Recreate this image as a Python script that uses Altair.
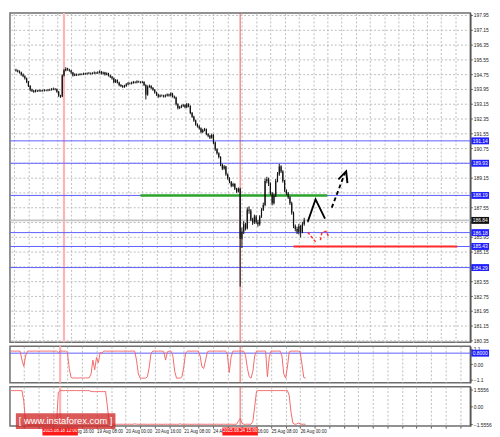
import altair as alt
import pandas as pd

# ---------------- data ----------------
first_open = 194.98
close = [
    194.94, 194.89, 194.83, 194.73, 194.63, 194.52, 194.32, 194.11, 193.90, 193.85,
    193.80, 193.85, 193.83, 193.86, 193.84, 193.85, 193.87, 193.86, 193.88, 193.90,
    193.92, 193.95, 193.93, 193.80, 193.59, 193.54, 194.68, 194.94, 195.04, 194.99,
    194.94, 194.83, 194.68, 194.73, 194.70, 194.72, 194.75, 194.74, 194.78, 194.76,
    194.78, 194.80, 194.77, 194.79, 194.82, 194.80, 194.83, 194.88, 194.78, 194.83,
    194.73, 194.78, 194.68, 194.60, 194.52, 194.32, 194.42, 194.30, 194.16, 194.11,
    194.06, 194.11, 194.20, 194.26, 194.24, 194.28, 194.32, 194.30, 194.35, 194.33,
    194.30, 194.32, 194.16, 193.64, 194.06, 194.11, 194.00, 193.90, 193.75, 193.64,
    193.54, 193.59, 193.59, 193.54, 193.59, 193.64, 193.59, 193.70, 193.54, 193.49,
    193.12, 192.91, 192.96, 193.02, 193.07, 192.96, 193.12, 193.02, 192.65, 192.45,
    192.24, 192.03, 191.93, 191.82, 191.62, 191.72, 191.77, 191.51, 191.41, 191.31,
    191.46, 191.05, 190.68, 190.47, 190.27, 189.85, 189.64, 189.75, 189.33, 189.12,
    188.92, 188.71, 188.81, 188.55, 188.40, 188.55, 185.85, 186.22, 186.63, 186.42,
    187.41, 187.36, 186.89, 186.74, 187.05, 186.74, 186.63, 187.05, 187.41, 187.67,
    188.97, 189.07, 188.81, 188.30, 187.77, 188.19, 188.97, 189.33, 189.75, 189.49,
    188.97, 188.45, 188.30, 188.09, 187.77, 187.26, 186.53, 186.37, 186.22, 186.53,
    186.22, 186.63, 186.84,
]
high = [
    195.04, 194.99, 194.95, 194.88, 194.79, 194.68, 194.56, 194.38, 194.15, 193.96,
    193.90, 193.91, 193.90, 193.92, 193.90, 193.91, 193.93, 193.92, 193.94, 193.96,
    193.99, 194.02, 194.00, 193.97, 193.84, 193.63, 194.74, 195.02, 195.12, 195.09,
    195.04, 194.98, 194.87, 194.79, 194.78, 194.77, 194.80, 194.79, 194.83, 194.82,
    194.84, 194.86, 194.84, 194.85, 194.89, 194.87, 194.90, 194.95, 194.92, 194.88,
    194.87, 194.84, 194.82, 194.72, 194.65, 194.56, 194.48, 194.46, 194.34, 194.21,
    194.16, 194.17, 194.26, 194.32, 194.30, 194.34, 194.38, 194.36, 194.41, 194.39,
    194.36, 194.38, 194.36, 194.20, 194.14, 194.18, 194.15, 194.05, 193.94, 193.80,
    193.69, 193.65, 193.65, 193.63, 193.65, 193.70, 193.69, 193.76, 193.74, 193.59,
    193.53, 193.17, 193.03, 193.09, 193.14, 193.12, 193.19, 193.17, 193.06, 192.70,
    192.50, 192.29, 192.08, 191.98, 191.87, 191.79, 191.84, 191.81, 191.56, 191.46,
    191.53, 191.50, 191.10, 190.73, 190.52, 190.31, 189.90, 189.83, 189.79, 189.38,
    189.17, 188.97, 188.88, 188.85, 188.60, 188.62, 188.60, 186.45, 186.80, 186.70,
    187.55, 187.60, 187.45, 186.98, 187.15, 187.12, 186.85, 187.12, 187.50, 187.80,
    189.10, 189.20, 189.15, 188.90, 188.38, 188.30, 189.08, 189.45, 189.90, 189.82,
    189.55, 189.03, 188.52, 188.38, 188.15, 187.85, 187.32, 186.62, 186.50, 186.65,
    186.60, 186.75, 186.98,
]
low = [
    194.88, 194.84, 194.78, 194.66, 194.58, 194.45, 194.26, 194.05, 193.82, 193.78,
    193.74, 193.76, 193.78, 193.79, 193.79, 193.80, 193.81, 193.82, 193.82, 193.84,
    193.86, 193.88, 193.87, 193.74, 193.52, 193.46, 193.50, 194.62, 194.90, 194.93,
    194.88, 194.77, 194.62, 194.64, 194.65, 194.66, 194.68, 194.69, 194.70, 194.71,
    194.72, 194.74, 194.72, 194.73, 194.75, 194.75, 194.76, 194.79, 194.72, 194.74,
    194.67, 194.69, 194.62, 194.54, 194.45, 194.25, 194.27, 194.24, 194.09, 194.05,
    194.00, 194.01, 194.06, 194.15, 194.19, 194.19, 194.23, 194.25, 194.25, 194.28,
    194.25, 194.25, 194.10, 193.38, 193.58, 194.01, 193.94, 193.84, 193.69, 193.57,
    193.47, 193.49, 193.53, 193.48, 193.49, 193.54, 193.53, 193.54, 193.48, 193.42,
    193.05, 192.84, 192.86, 192.91, 192.97, 192.90, 192.91, 192.96, 192.58, 192.38,
    192.17, 191.96, 191.86, 191.75, 191.55, 191.56, 191.66, 191.44, 191.34, 191.24,
    191.26, 190.97, 190.60, 190.40, 190.19, 189.77, 189.56, 189.58, 189.25, 189.04,
    188.85, 188.63, 188.65, 188.48, 188.33, 188.35, 183.26, 185.35, 186.10, 186.30,
    186.35, 187.20, 186.80, 186.60, 186.65, 186.66, 186.50, 186.55, 186.98, 187.35,
    187.60, 188.85, 188.70, 188.20, 187.65, 187.70, 188.10, 188.90, 189.25, 189.40,
    188.88, 188.38, 188.20, 188.00, 187.68, 187.15, 186.42, 186.25, 186.10, 186.08,
    185.92, 186.15, 186.55,
]
ind1 = [
    0.95, 0.95, 0.94, 0.95, 0.95, 0.94, 0.30, -0.15, 0.60, 0.95,
    0.95, 0.94, 0.95, 0.95, 0.95, 0.94, 0.95, 0.95, 0.95, 0.94,
    0.95, 0.95, 0.95, 0.94, 0.95, 0.95, 0.85, 0.95, 0.95, 0.94,
    0.95, 0.85, -0.30, -0.95, -1.00, -0.98, -0.99, -1.00, -0.98, -0.99,
    -1.00, -0.98, -0.99, -0.97, -0.70, 0.30, -0.40, 0.50, 0.10, 0.85,
    0.80, 0.95, 0.95, 0.94, 0.95, 0.95, 0.95, 0.94, 0.95, 0.95,
    0.95, 0.94, 0.95, 0.95, 0.95, 0.94, 0.95, 0.95, 0.95, 0.30,
    -0.70, -1.00, -1.00, -1.00, -1.00, -0.90, -0.20, 0.80, 0.95, 0.95,
    0.94, 0.95, 0.95, 0.95, 0.90, 0.30, 0.90, 0.95, 0.95, 0.60,
    -0.50, -1.00, -1.00, -1.00, -0.90, -0.20, 0.80, 0.95, 0.95, 0.94,
    0.95, 0.95, 0.95, 0.94, 0.60, -0.20, -0.30, 0.30, 0.90, 0.95,
    0.95, 0.94, 0.95, 0.95, 0.95, 0.94, 0.95, 0.95, 0.95, 0.70,
    -0.60, 0.50, 0.95, 0.95, 0.94, 0.95, 0.95, 0.95, 0.94, 0.60,
    -0.30, -0.90, -1.00, -0.50, 0.60, 0.95, 0.95, 0.94, 0.95, 0.95,
    0.95, -0.90, 0.50, 0.95, 0.95, 0.94, 0.95, 0.95, 0.95, 0.60,
    -0.70, -1.00, -0.20, 0.90, 0.95, 0.95, 0.94, 0.95, 0.95, 0.90,
    0.00, -0.95, -1.00,
]
ind2 = [
    1.45, 1.45, 1.44, 1.45, 1.45, 1.44, 1.45, 0.50, -1.40, -1.58,
    -1.58, -1.57, -1.58, -1.58, -1.58, -1.57, -1.58, -1.58, -1.58, -1.57,
    -1.58, -1.58, -1.58, -1.57, -1.58, -1.58, 1.30, 1.45, 1.45, 1.44,
    1.45, 1.45, 1.45, 1.44, 1.45, 1.45, 1.45, 1.44, 1.45, 1.45,
    1.45, 1.44, 1.45, 1.45, 1.36, 1.36, 1.35, 1.36, 1.36, 1.36,
    1.35, 1.36, 1.36, 0.00, -1.45, -1.56, -1.56, -1.55, -1.56, -1.56,
    -1.56, -1.55, -1.56, -1.56, -1.56, -1.55, -1.56, -1.56, -1.52, -1.55,
    -1.56, -1.56, -1.56, -1.55, -1.56, -1.56, -1.56, -1.55, -1.56, -1.56,
    -1.56, -1.55, -1.56, -1.56, -1.56, -1.55, -1.56, -1.56, -1.56, -1.55,
    -1.56, -1.56, -1.56, -1.52, -1.56, -1.56, -1.56, -1.55, -1.56, -1.56,
    -1.56, -1.55, -1.56, -1.56, -1.56, -1.55, -1.56, -1.56, -1.56, -1.55,
    -1.56, -1.56, -1.56, -1.55, -1.56, -1.56, -1.56, -1.55, -1.56, -1.56,
    -1.56, -1.55, -1.56, -1.56, -1.56, -1.30, -1.05, -1.45, -1.56, -1.56,
    -1.55, -1.56, -1.56, -1.30, 0.00, 1.40, 1.45, 1.45, 1.44, 1.45,
    1.45, 1.45, 1.44, 1.45, 1.45, 1.45, 1.44, 1.45, 1.45, 1.45,
    1.44, 1.45, 1.45, 1.00, -0.50, -1.45, -1.56, -1.54, -1.45, -1.52,
    -1.56, -1.55, -1.56,
]

price_ticks = [180.35, 181.15, 181.95, 182.75, 183.55, 184.35, 185.15, 185.95,
               186.75, 187.55, 188.35, 189.15, 189.95, 190.75, 191.55, 192.35,
               193.15, 193.95, 194.75, 195.55, 196.35, 197.15, 197.95]
hidden_price_labels = [184.35, 186.75, 188.35]   # covered by level boxes in the reference
level_values = [191.14, 189.93, 188.19, 186.18, 185.43, 184.29]
level_labels = ["191.14", "189.93", "188.19", "186.18", "185.43", "184.29"]
current_price = [186.84]
current_label = ["186.84"]
green_level = [188.19]; green_from = [70]; green_to = [175]
red_level = [185.43]; red_from = [156]; red_to = [248]
marker_bars = [27, 126]
marker_colors = ["#ffb3b3", "#e65c5c"]
marker_widths = [2.2, 1.0]
marker_labels = ["2015.08.18 12:00", "2015.08.24 15:00"]
label_bars = [-1, 31, 47, 63, 79, 95, 111, 127, 143, 159]
label_texts = ["17 Aug 08:00", "18 Aug 16:00", "19 Aug 08:00",
               "20 Aug 00:00", "20 Aug 16:00", "21 Aug 08:00", "24 Aug 00:00",
               "24 Aug 16:00", "25 Aug 08:00", "26 Aug 00:00"]
ind1_level = [0.8]; ind1_level_label = ["0.8000"]
ind1_ticks = [-1.1, 0, 1.1]
ind2_ticks = [-1.5556, 0, 1.5556]
# forecast sketch (bar index, price)
fc_solid_bar = [164.0, 168.4, 173.7]; fc_solid_price = [186.77, 187.98, 186.94]
fc_dash_bar = [177.5, 184.9]; fc_dash_price = [187.53, 189.40]
fc_head_bar = [181.2, 185.6, 186.3]; fc_head_price = [189.06, 189.49, 188.85]
rd1_bar = [164.0, 168.4]; rd1_price = [186.20, 185.68]
rd2_bar = [171.1, 172.0, 174.6, 175.8]; rd2_price = [185.77, 186.20, 186.25, 185.91]

# ---------------- layout ----------------
W, H1, H2, H3 = 467, 334, 37, 40
XDOM = [-0.6, 252.6]
XS = alt.Scale(domain=XDOM, nice=False, zero=False)
YS1 = alt.Scale(domain=[180.25, 198.05], nice=False, zero=False)
YS2 = alt.Scale(domain=[-1.33, 1.30], nice=False, zero=False)
YS3 = alt.Scale(domain=[-1.72, 1.80], nice=False, zero=False)
xgrid = list(range(-1, 253, 8))
BOX18 = "M-1,-0.39L1,-0.39L1,0.39L-1,0.39Z"
BOX36 = "M-1,-0.23L1,-0.23L1,0.23L-1,0.23Z"
FONT = "Liberation Sans"

n = len(close)
cdf = pd.DataFrame({"bar": list(range(n)), "open": [first_open] + close[:-1],
                    "close": close, "high": high, "low": low})
ldf = pd.DataFrame({"price": level_values, "label": level_labels})
curdf = pd.DataFrame({"price": current_price, "label": current_label})
gdf = pd.DataFrame({"x1": green_from, "x2": green_to, "y": green_level})
rdf = pd.DataFrame({"x1": red_from, "x2": red_to, "y": red_level})
vdf = pd.DataFrame({"bar": marker_bars, "c": marker_colors, "w": marker_widths, "label": marker_labels})

# axes (identical object used by every layer of a panel so they merge)
hidden_x = alt.Axis(values=xgrid, grid=True, labels=False, ticks=False, domain=False, title=None)
expr = "''"
for b, t in reversed(list(zip(label_bars, label_texts))):
    expr = f"datum.value == {b} ? '{t}' : ({expr})"
bottom_x = alt.Axis(values=xgrid, grid=True, labels=True, ticks=True, domain=False, title=None,
                    labelExpr=expr, labelAlign="left", labelOverlap=False, labelBound=False,
                    labelFlush=False, labelPadding=1, tickSize=2, labelFontSize=4.5)
hide_cond = " || ".join(f"abs(datum.value - {v}) < 0.001" for v in hidden_price_labels)
y1_axis = alt.Axis(orient="right", values=price_ticks, grid=True, title=None,
                   domainWidth=1.5, labelOverlap=False,
                   labelExpr=f"({hide_cond}) ? '' : format(datum.value, '.2f')")
y2_axis = alt.Axis(orient="right", values=ind1_ticks, grid=False, title=None, domainWidth=1.5,
                   labelExpr="datum.value == 0 ? '0.00' : format(datum.value, '.1f')")
y3_axis = alt.Axis(orient="right", values=ind2_ticks, grid=False, title=None, domainWidth=1.5,
                   labelExpr="datum.value == 0 ? '0.00' : format(datum.value, '.4f')")


def mk_x(axis):
    def f(field):
        return alt.X(field, type="quantitative", scale=XS, axis=axis)
    return f


def mk_y(scale, axis):
    def f(field):
        return alt.Y(field, type="quantitative", scale=scale, axis=axis)
    return f


def path_df(bars, prices):
    return pd.DataFrame({"bar": bars, "price": prices, "o": list(range(len(bars)))})


# ---------------- main price panel ----------------
X1, Y1 = mk_x(hidden_x), mk_y(YS1, y1_axis)
vlines1 = alt.Chart(vdf).mark_rule().encode(
    x=X1("bar"), color=alt.Color("c", scale=None), strokeWidth=alt.StrokeWidth("w", scale=None))
levels = alt.Chart(ldf).mark_rule(color="#5c5cff", strokeWidth=1).encode(y=Y1("price"))
cur_line = alt.Chart(curdf).mark_rule(color="#c4c4c4", strokeWidth=1.8).encode(y=Y1("price"))
green = alt.Chart(gdf).mark_rule(color="#2aa52a", strokeWidth=2.6).encode(x=X1("x1"), x2="x2", y=Y1("y"))
redl = alt.Chart(rdf).mark_rule(color="#ff2a2a", strokeWidth=2.2).encode(x=X1("x1"), x2="x2", y=Y1("y"))
wicks = alt.Chart(cdf).mark_rule(color="#111111", strokeWidth=1).encode(x=X1("bar"), y=Y1("low"), y2="high")
bodies = alt.Chart(cdf).mark_bar(color="#111111", width=1.2).encode(x=X1("bar"), y=Y1("open"), y2="close")


def pline(bars, prices, color, dash=None, width=1.8):
    kw = dict(color=color, strokeWidth=width)
    if dash:
        kw["strokeDash"] = dash
    return alt.Chart(path_df(bars, prices)).mark_line(**kw).encode(
        x=X1("bar"), y=Y1("price"), order="o:Q")


fc1 = pline(fc_solid_bar, fc_solid_price, "#000000", width=1.9)
fc2 = pline(fc_dash_bar, fc_dash_price, "#000000", dash=[4, 3], width=1.9)
fc3 = pline(fc_head_bar, fc_head_price, "#000000", width=1.9)
rd1 = pline(rd1_bar, rd1_price, "#ff3030", dash=[3, 2], width=1.5)
rd2 = pline(rd2_bar, rd2_price, "#ff3030", dash=[3, 2], width=1.5)

lbox = alt.Chart(ldf).mark_point(shape=BOX18, size=324, filled=True, opacity=1,
                                 color="#1f1fff", strokeWidth=0).encode(x=alt.value(W + 10), y=Y1("price"))
ltxt = alt.Chart(ldf).mark_text(font=FONT, fontSize=5, color="white").encode(
    x=alt.value(W + 10), y=Y1("price"), text="label")
cbox = alt.Chart(curdf).mark_point(shape=BOX18, size=324, filled=True, opacity=1,
                                   color="#111111", strokeWidth=0).encode(x=alt.value(W + 10), y=Y1("price"))
ctxt = alt.Chart(curdf).mark_text(font=FONT, fontSize=5, color="white").encode(
    x=alt.value(W + 10), y=Y1("price"), text="label")

p1 = alt.layer(vlines1, levels, cur_line, green, redl, wicks, bodies,
               fc1, fc2, fc3, rd1, rd2, lbox, ltxt, cbox, ctxt).properties(width=W, height=H1)

# ---------------- indicator 1 ----------------
X2, Y2 = mk_x(hidden_x), mk_y(YS2, y2_axis)
i1df = pd.DataFrame({"bar": list(range(len(ind1))), "v": ind1})
i1lev = pd.DataFrame({"v": ind1_level, "label": ind1_level_label})
vlines2 = alt.Chart(vdf).mark_rule().encode(
    x=X2("bar"), color=alt.Color("c", scale=None), strokeWidth=alt.StrokeWidth("w", scale=None))
i1line = alt.Chart(i1df).mark_line(color="#f36a6a", strokeWidth=1).encode(x=X2("bar"), y=Y2("v"))
i1rule = alt.Chart(i1lev).mark_rule(color="#5c5cff", strokeWidth=1).encode(y=Y2("v"))
i1box = alt.Chart(i1lev).mark_point(shape=BOX18, size=324, filled=True, opacity=1,
                                    color="#1f1fff", strokeWidth=0).encode(x=alt.value(W + 10), y=Y2("v"))
i1txt = alt.Chart(i1lev).mark_text(font=FONT, fontSize=5, color="white").encode(
    x=alt.value(W + 10), y=Y2("v"), text="label")
p2 = alt.layer(vlines2, i1rule, i1line, i1box, i1txt).properties(width=W, height=H2)

# ---------------- indicator 2 ----------------
X3, Y3 = mk_x(bottom_x), mk_y(YS3, y3_axis)
i2df = pd.DataFrame({"bar": list(range(len(ind2))), "v": ind2})
vlines3 = alt.Chart(vdf).mark_rule().encode(
    x=X3("bar"), color=alt.Color("c", scale=None), strokeWidth=alt.StrokeWidth("w", scale=None))
i2line = alt.Chart(i2df).mark_line(color="#f36a6a", strokeWidth=1).encode(x=X3("bar"), y=Y3("v"))
dbox = alt.Chart(vdf).mark_point(shape=BOX36, size=1296, filled=True, opacity=1,
                                 color="#ff1a1a", strokeWidth=0).encode(x=X3("bar"), y=alt.value(H3 + 5.5))
dtxt = alt.Chart(vdf).mark_text(font=FONT, fontSize=4.5, color="white").encode(
    x=X3("bar"), y=alt.value(H3 + 5.5), text="label")
wm = pd.DataFrame({"t": ["[ www.instaforex.com ]"]})
wmbox = alt.Chart(wm).mark_rect(color="#cf2a2a", opacity=0.78).encode(
    x=alt.value(6), x2=alt.value(107), y=alt.value(27), y2=alt.value(43))
wmtxt = alt.Chart(wm).mark_text(font=FONT, fontSize=9.5, color="white").encode(
    x=alt.value(56.5), y=alt.value(35), text="t")
p3 = alt.layer(vlines3, i2line, dbox, dtxt, wmbox, wmtxt).properties(width=W, height=H3)

chart = (
    alt.vconcat(p1, p2, p3, spacing=0)
    .properties(padding=0)
    .configure(font=FONT)
    .configure_view(stroke="#6e6e6e", strokeWidth=1.5)
    .configure_axis(gridColor="#bcbcbc", gridDash=[2, 2], gridWidth=1,
                    labelFont=FONT, labelFontSize=5, labelColor="#222222",
                    domainColor="#555555", tickColor="#555555", tickSize=2, labelPadding=1)
)
chart.save("out.html", embed_options={"renderer": "svg", "actions": False})
